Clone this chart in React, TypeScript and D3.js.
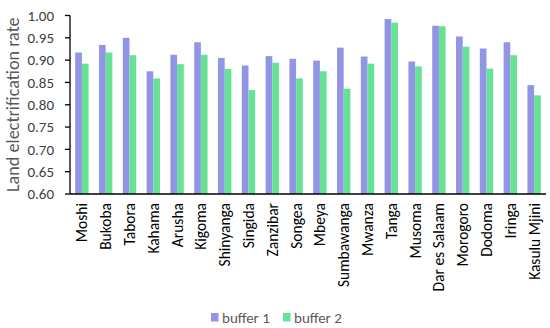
import * as d3 from "d3";

const ciudades = [
  "Moshi", "Bukoba", "Tabora", "Kahama", "Arusha", "Kigoma", "Shinyanga", "Singida",
  "Zanzibar", "Songea", "Mbeya", "Sumbawanga", "Mwanza", "Tanga", "Musoma",
  "Dar es Salaam", "Morogoro", "Dodoma", "Iringa", "Kasulu Mjini",
];
const buffer1 = [
  0.917, 0.934, 0.950, 0.875, 0.912, 0.940, 0.905, 0.888, 0.909, 0.903, 0.899, 0.928,
  0.908, 0.992, 0.897, 0.977, 0.953, 0.926, 0.940, 0.844,
];
const buffer2 = [
  0.892, 0.917, 0.911, 0.859, 0.891, 0.912, 0.880, 0.833, 0.894, 0.859, 0.875, 0.836,
  0.892, 0.984, 0.886, 0.976, 0.930, 0.881, 0.911, 0.821,
];
const series = ["buffer 1", "buffer 2"];
const colores = ["#9295E6", "#66E295"];
const ticksY = [0.6, 0.65, 0.7, 0.75, 0.8, 0.85, 0.9, 0.95, 1.0];

const ANCHO = 550;
const ALTO = 328;

export default function App() {
  const margen = { top: 15.5, right: 4, bottom: 134, left: 70 };
  const x = d3
    .scaleBand()
    .domain(ciudades)
    .range([margen.left, ANCHO - margen.right])
    .padding(0);
  const xs = d3
    .scaleBand()
    .domain(series)
    .range([0, x.bandwidth()])
    .paddingInner(0)
    .paddingOuter(0.78);
  const y = d3.scaleLinear().domain([0.6, 1.0]).range([ALTO - margen.bottom, margen.top]);
  const base = y(0.6);
  const datos = [buffer1, buffer2];
  const fuente = "Carlito, Calibri, 'Liberation Sans', sans-serif";

  return (
    <svg
      width={ANCHO}
      height={ALTO}
      style={{ position: "absolute", left: 0, top: 0, background: "#fff" }}
      fontFamily={fuente}
    >
      {/* barras */}
      {series.map((s, si) =>
        x.domain().map((c, i) => (
          <rect
            key={s + c}
            x={(x(c) || 0) + (xs(s) || 0)}
            y={y(datos[si][i])}
            width={xs.bandwidth()}
            height={base - y(datos[si][i])}
            fill={colores[si]}
          />
        ))
      )}

      {/* eje y */}
      <line x1={margen.left} x2={margen.left} y1={y(1)} y2={base} stroke="#000" strokeWidth={1.3} />
      {ticksY.map((t) => (
        <g key={t}>
          <line x1={margen.left - 5} x2={margen.left} y1={y(t)} y2={y(t)} stroke="#000" strokeWidth={1.3} />
          <text
            x={margen.left - 16}
            y={y(t)}
            dy="0.35em"
            textAnchor="end"
            fontSize={15}
            fill="#404040"
          >
            {d3.format(".2f")(t)}
          </text>
        </g>
      ))}
      <text
        transform={`translate(13,${(y(1) + base) / 2}) rotate(-90)`}
        textAnchor="middle"
        dy="0.35em"
        fontSize={18.2}
        fill="#595959"
      >
        Land electrification rate
      </text>

      {/* eje x */}
      <line x1={margen.left} x2={ANCHO - margen.right} y1={base} y2={base} stroke="#000" strokeWidth={1.5} />
      {x.domain().map((c) => (
        <text
          key={c}
          transform={`translate(${(x(c) || 0) + x.bandwidth() / 2},${base + 9}) rotate(-90)`}
          textAnchor="end"
          dy="0.35em"
          fontSize={15.5}
          fill="#000"
        >
          {c}
        </text>
      ))}

      {/* leyenda */}
      {series.map((s, si) => {
        const lx = si === 0 ? 211 : 283;
        return (
          <g key={s}>
            <rect x={lx} y={313} width={7.5} height={8.5} fill={colores[si]} />
            <text x={lx + 11} y={317.5} dy="0.35em" fontSize={15} fill="#595959">
              {s}
            </text>
          </g>
        );
      })}
    </svg>
  );
}
